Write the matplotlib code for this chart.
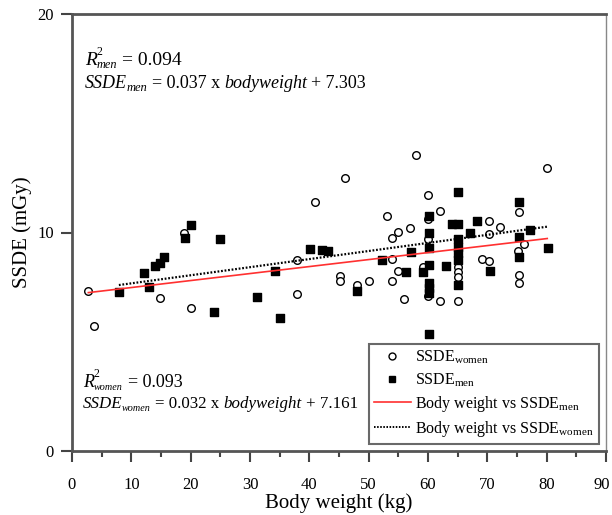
import matplotlib
matplotlib.use("Agg")
import matplotlib.pyplot as plt
from matplotlib.ticker import MultipleLocator
from matplotlib.lines import Line2D
from matplotlib.transforms import IdentityTransform, ScaledTranslation
import numpy as np

plt.rcParams["font.family"] = ["Liberation Serif", "DejaVu Serif"]
plt.rcParams["mathtext.fontset"] = "custom"
plt.rcParams["mathtext.rm"] = "Liberation Serif"
plt.rcParams["mathtext.it"] = "Liberation Serif:italic"
plt.rcParams["mathtext.bf"] = "Liberation Serif:bold"

# Body weight (kg) and SSDE (mGy), women
women_weight = [2.75, 3.7, 14.9, 18.9, 20.0, 38.0, 38.0, 41.0, 45.1, 45.1, 46.0, 48.1,
                50.1, 53.1, 54.0, 55.0, 57.0, 54.0, 55.0, 54.0, 56.0, 58.0, 60.0, 60.0,
                62.1, 60.0, 59.1, 60.0, 62.1, 65.1, 65.1, 65.1, 65.1, 70.2, 70.2, 72.2,
                69.1, 70.2, 75.3, 76.1, 75.1, 75.3, 75.3, 80.1]
women_ssde = [7.34, 5.72, 7.00, 9.96, 6.56, 8.74, 7.20, 11.41, 8.01, 7.79, 12.48, 7.58,
              7.77, 10.76, 9.73, 10.01, 10.22, 8.79, 8.24, 7.78, 6.94, 13.53, 11.72, 10.60,
              10.98, 9.69, 8.44, 7.09, 6.86, 8.44, 8.20, 7.98, 6.86, 10.54, 9.92, 10.27,
              8.77, 8.71, 10.95, 9.47, 9.15, 8.05, 7.67, 12.94]

# Body weight (kg) and SSDE (mGy), men
men_weight = [7.9, 12.1, 13.0, 14.0, 14.9, 15.5, 19.1, 20.0, 25.0, 24.0, 31.2, 35.1,
              34.2, 40.1, 42.1, 43.1, 48.1, 52.2, 56.3, 57.2, 60.1, 60.1, 60.1, 60.1,
              59.2, 60.1, 60.1, 60.1, 60.1, 63.1, 64.0, 65.1, 65.1, 65.1, 65.1, 65.1,
              65.1, 65.1, 67.1, 68.2, 70.4, 75.3, 75.3, 77.2, 75.3, 80.2]
men_ssde = [7.29, 8.16, 7.52, 8.47, 8.62, 8.89, 9.73, 10.33, 9.69, 6.38, 7.03, 6.07,
            8.25, 9.26, 9.21, 9.15, 7.34, 8.74, 8.18, 9.11, 10.76, 9.99, 9.28, 8.50,
            8.19, 7.67, 7.45, 7.22, 5.34, 8.47, 10.39, 10.39, 11.87, 9.69, 9.35, 9.05,
            8.74, 7.60, 9.96, 10.54, 8.25, 11.41, 9.78, 10.11, 8.89, 9.28]

# Regression equations printed on the chart (slope, intercept)
men_fit = (0.037, 7.303)
women_fit = (0.032, 7.161)
men_r2 = 0.094
women_r2 = 0.093

x_ticks = [0, 10, 20, 30, 40, 50, 60, 70, 80, 90]
y_ticks = [0, 10, 20]

fig = plt.figure(figsize=(6.12, 5.15), dpi=100)
ax = fig.add_axes([72 / 612, 1 - 451 / 515, (606 - 72) / 612, (451 - 14) / 515])

ax.scatter(women_weight, women_ssde, s=30, facecolors="white", edgecolors="black",
           linewidths=1.0, marker="o", zorder=3)
ax.scatter(men_weight, men_ssde, s=34, color="black", marker="s", zorder=4)

# Fitted lines
xr = np.array([min(women_weight), max(women_weight)])
ax.plot(xr, women_fit[0] * xr + women_fit[1], color="#ff3030", lw=1.2, zorder=5)
xd = np.array([min(men_weight), max(men_weight)])
ax.plot(xd, men_fit[0] * xd + men_fit[1], color="black", lw=1.6,
        linestyle=(0, (0.8, 0.8)), zorder=5)

ax.set_xlim(0, 90)
ax.set_ylim(0, 20)
ax.set_xticks(x_ticks)
ax.set_yticks(y_ticks)
ax.xaxis.set_minor_locator(MultipleLocator(5))
ax.tick_params(axis="x", which="major", direction="out", length=8, width=1.5,
               color="#444444", labelsize=12, pad=11)
ax.tick_params(axis="x", which="minor", direction="out", length=4, width=1.5,
               color="#444444")
ax.tick_params(axis="y", which="major", direction="out", length=8, width=1.5,
               color="#444444", labelsize=12, pad=5)

for side in ["left", "bottom", "top"]:
    ax.spines[side].set_color("#555555")
    ax.spines[side].set_linewidth(2)
ax.spines["right"].set_color("#888888")
ax.spines["right"].set_linewidth(1)

ax.set_xlabel("Body weight (kg)", fontsize=15, labelpad=0)
ax.set_ylabel("SSDE (mGy)", fontsize=15, labelpad=4)

renderer = fig.canvas.get_renderer()

# keep the last x tick label inside the canvas
last_label = ax.get_xticklabels()[-1]
last_label.set_transform(last_label.get_transform()
                         + ScaledTranslation(-4 / 100, 0, fig.dpi_scale_trans))


def rich_text(x, y, pieces):
    """Lay out text pieces left to right from a data-space baseline.

    Each piece: (text, size, italic, rise_px, gap_px, advance).
    advance=False keeps the pen in place after the piece; advance=None
    starts the piece at the pen instead of after the widest piece so far.
    """
    x0, y0 = ax.transData.transform((x, y))
    pen = x0
    reach = x0
    for s, size, italic, rise, gap, advance in pieces:
        start = max(pen, reach) + gap if advance is not None else pen
        t = fig.text(start, y0 + rise, s, transform=IdentityTransform(),
                     fontsize=size, style="italic" if italic else "normal",
                     ha="left", va="baseline")
        bb = t.get_window_extent(renderer)
        if advance:
            pen = bb.x1
        reach = max(reach, bb.x1)


def r2_line(x, y, group, value, size, sub_size):
    rich_text(x, y, [
        ("R", size, True, 0, 0, True),
        ("2", 8.5, False, 10, 0, False),
        (group, sub_size, True, -3, 1, None),
        ("= " + f"{value:.3f}", size, False, 0, 5, True),
    ])


def fit_line(x, y, group, fit, size, sub_size):
    rich_text(x, y, [
        ("SSDE", size, True, 0, 0, True),
        (group, sub_size, True, -3, 0, True),
        (f"= {fit[0]:.3f} x", size, False, 0, 4, True),
        ("bodyweight", size, True, 0, 4, True),
        (f"+ {fit[1]:.3f}", size, False, 0, 4, True),
    ])


r2_line(2.19, 17.67, "men", men_r2, 14, 8.8)
fit_line(2.19, 16.61, "men", men_fit, 13, 9)
r2_line(1.8, 2.94, "women", women_r2, 13, 7.3)
fit_line(1.8, 1.97, "women", women_fit, 12.2, 7.3)

handles = [
    Line2D([], [], marker="o", linestyle="none", markerfacecolor="white",
           markeredgecolor="black", markersize=5),
    Line2D([], [], marker="s", linestyle="none", color="black", markersize=5),
    Line2D([], [], color="#ff3030", lw=1.2),
    Line2D([], [], color="black", lw=1.4, linestyle=(0, (0.8, 0.8))),
]
labels = [r"SSDE$_{\mathrm{women}}$", r"SSDE$_{\mathrm{men}}$",
          r"Body weight vs SSDE$_{\mathrm{men}}$", r"Body weight vs SSDE$_{\mathrm{women}}$"]
leg = ax.legend(handles, labels, loc="lower right", bbox_to_anchor=(1, 0),
                fontsize=11.5, frameon=True, fancybox=False, borderaxespad=0.45,
                handlelength=2.3, handletextpad=0.3, labelspacing=0.32,
                borderpad=0.3)
leg.get_frame().set_edgecolor("#444444")
leg.get_frame().set_linewidth(1.5)

fig.savefig("out.png", dpi=100)
